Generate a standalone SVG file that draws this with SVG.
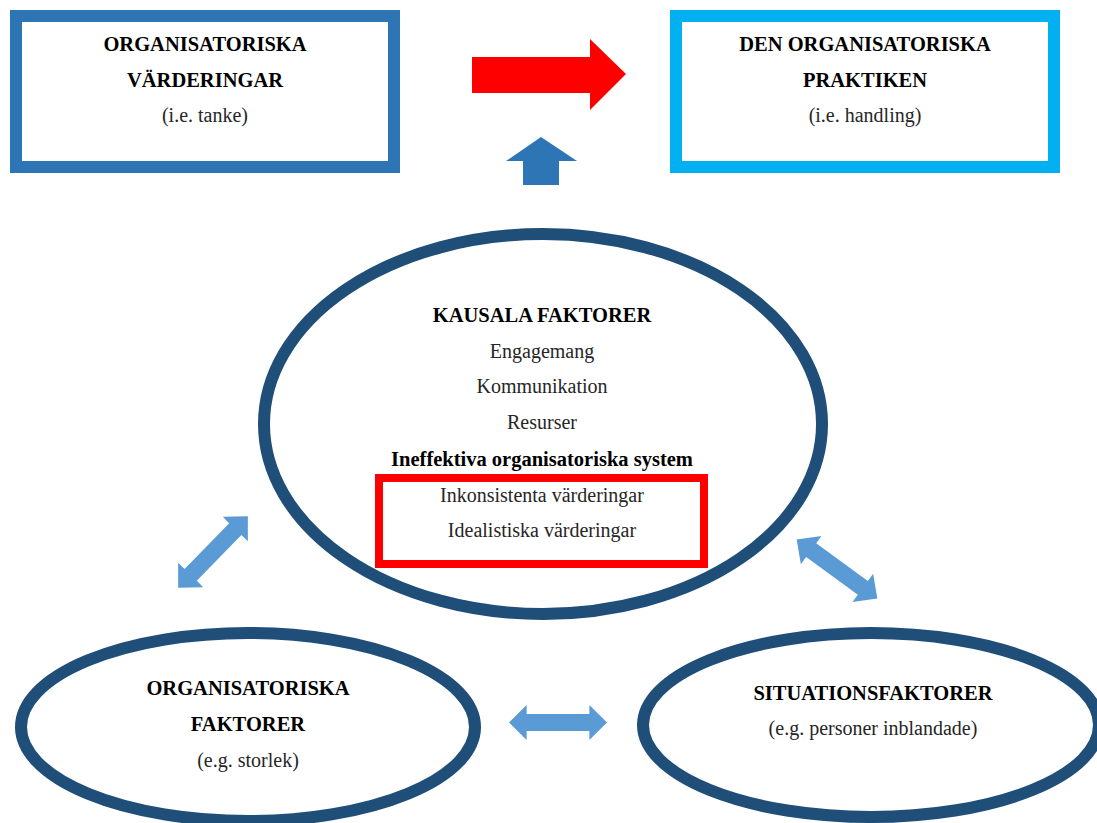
<svg xmlns="http://www.w3.org/2000/svg" xmlns:xlink="http://www.w3.org/1999/xlink" width="1097" height="823" viewBox="0 0 1097 823">
  <style>
    text { font-family: "Liberation Serif", "Times New Roman", serif; font-size: 20px; text-anchor: middle; }
    .b { font-weight: bold; fill: #000; font-size: 20.5px; }
    .r { fill: #262626; }
    .ell { fill: #fff; stroke: #1F4E79; stroke-width: 12; }
    .dbl { fill: #5B9BD5; }
  </style>
  <defs>
    <!-- two-headed block arrow, 100 long, centred on the origin -->
    <path id="dblArrow" d="M-50,0 L-32,-17.5 L-32,-8.5 L32,-8.5 L32,-17.5 L50,0 L32,17.5 L32,8.5 L-32,8.5 L-32,17.5 Z"/>
  </defs>
  <rect width="1097" height="823" fill="#fff"/>

  <g id="varderingar">
    <rect x="16" y="16" width="378" height="151" fill="#fff" stroke="#2E75B6" stroke-width="12"/>
    <text x="205" y="51" class="b">ORGANISATORISKA</text>
    <text x="205" y="87" class="b">VÄRDERINGAR</text>
    <text x="205" y="122" class="r">(i.e. tanke)</text>
  </g>

  <g id="praktiken">
    <rect x="676" y="16" width="378" height="151" fill="#fff" stroke="#00B0F0" stroke-width="12"/>
    <text x="865" y="51" class="b">DEN ORGANISATORISKA</text>
    <text x="865" y="87" class="b">PRAKTIKEN</text>
    <text x="865" y="122" class="r">(i.e. handling)</text>
  </g>

  <g id="kausala">
    <ellipse cx="543" cy="424" rx="279" ry="190" class="ell"/>
    <text x="542" y="322" class="b">KAUSALA FAKTORER</text>
    <text x="542" y="358" class="r">Engagemang</text>
    <text x="542" y="393" class="r">Kommunikation</text>
    <text x="542" y="429" class="r">Resurser</text>
    <text x="542" y="466" class="b">Ineffektiva organisatoriska system</text>
    <rect x="379" y="478" width="325" height="86" fill="none" stroke="#FF0000" stroke-width="8"/>
    <text x="542" y="502" class="r">Inkonsistenta värderingar</text>
    <text x="542" y="537" class="r">Idealistiska värderingar</text>
  </g>

  <g id="org-faktorer">
    <ellipse cx="248" cy="727" rx="227" ry="94" class="ell"/>
    <text x="248" y="695" class="b">ORGANISATORISKA</text>
    <text x="248" y="731" class="b">FAKTORER</text>
    <text x="248" y="767" class="r">(e.g. storlek)</text>
  </g>

  <g id="situationsfaktorer">
    <ellipse cx="871" cy="725" rx="228" ry="92" class="ell"/>
    <text x="873" y="700" class="b">SITUATIONSFAKTORER</text>
    <text x="873" y="735" class="r">(e.g. personer inblandade)</text>
  </g>

  <g id="connectors">
    <!-- values lead to practice -->
    <path d="M472,57 L590,57 L590,39 L626,74 L590,110 L590,93 L472,93 Z" fill="#FF0000"/>
    <!-- causal factors feed practice -->
    <path d="M523,185 L523,161 L506,161 L541,137 L577,161 L559,161 L559,185 Z" fill="#2E75B6"/>
    <!-- mutual influences between the ellipses -->
    <use xlink:href="#dblArrow" class="dbl" transform="translate(558,722.5) scale(0.98,1)"/>
    <use xlink:href="#dblArrow" class="dbl" transform="translate(213,552) rotate(-45.8)"/>
    <use xlink:href="#dblArrow" class="dbl" transform="translate(837,569) rotate(36.2)"/>
  </g>
</svg>
